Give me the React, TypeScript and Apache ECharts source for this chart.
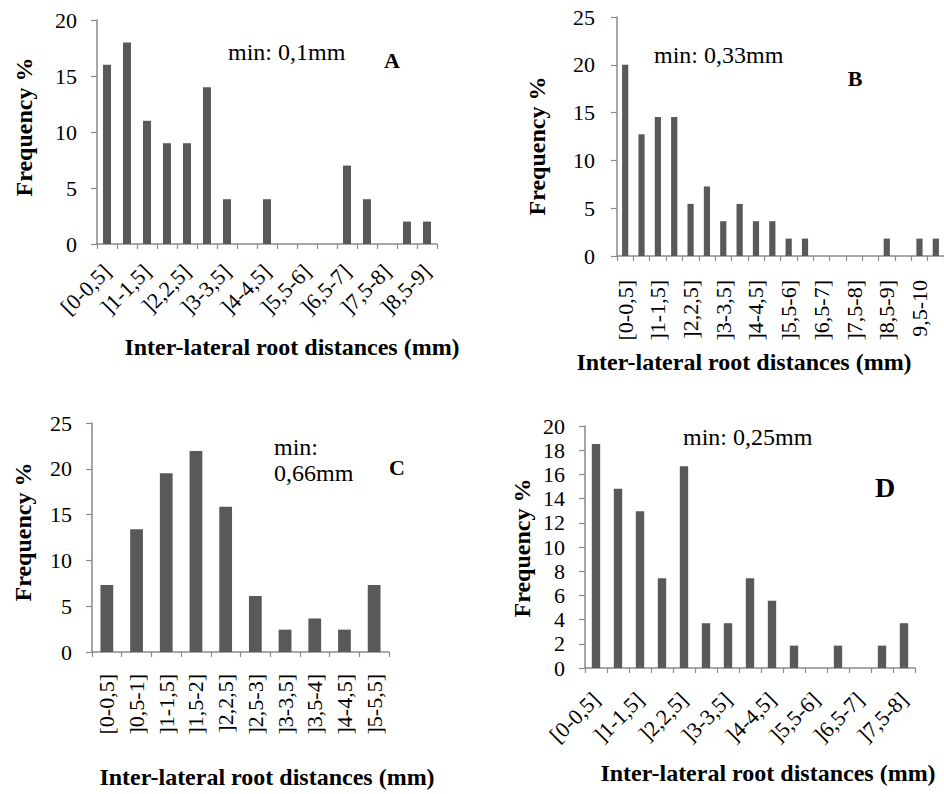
import React, { useEffect, useRef } from "react";
import * as echarts from "echarts";

const catsA = ["[0-0,5]", "]0,5-1]", "]1-1,5]", "]1,5-2]", "]2,2,5]", "]2,5-3]", "]3-3,5]", "]3,5-4]", "]4-4,5]", "]4,5-5,5]", "]5,5-6]", "]6-6,5]", "]6,5-7]", "]7-7,5]", "]7,5-8]", "]8-8,5]", "]8,5-9]"];
const valsA = [16, 18, 11, 9, 9, 14, 4, 0, 4, 0, 0, 0, 7, 4, 0, 2, 2];

const catsB = ["[0-0,5]", "]0,5-1]", "]1-1,5]", "]1,5-2]", "]2,2,5]", "]2,5-3]", "]3-3,5]", "]3,5-4]", "]4-4,5]", "]4,5-5,5]", "]5,5-6]", "]6-6,5]", "]6,5-7]", "]7-7,5]", "]7,5-8]", "]8-8,5]", "]8,5-9]", "]9-9,5]", "9,5-10", "]10-10,5]"];
const valsB = [20, 12.73, 14.55, 14.55, 5.45, 7.27, 3.64, 5.45, 3.64, 3.64, 1.82, 1.82, 0, 0, 0, 0, 1.82, 0, 1.82, 1.82];

const catsC = ["[0-0,5]", "]0,5-1]", "]1-1,5]", "]1,5-2]", "]2,2,5]", "]2,5-3]", "]3-3,5]", "]3,5-4]", "]4-4,5]", "]5-5,5]"];
const valsC = [7.32, 13.41, 19.51, 21.95, 15.85, 6.1, 2.44, 3.66, 2.44, 7.32];

const catsD = ["[0-0,5]", "]0,5-1]", "]1-1,5]", "]1,5-2]", "]2,2,5]", "]2,5-3]", "]3-3,5]", "]3,5-4]", "]4-4,5]", "]4,5-5,5]", "]5,5-6]", "]6-6,5]", "]6,5-7]", "]7-7,5]", "]7,5-8]"];
const valsD = [18.52, 14.81, 12.96, 7.41, 16.67, 3.7, 3.7, 7.41, 5.56, 1.85, 0, 1.85, 0, 1.85, 3.7];

const FONT = "Liberation Serif";
const AXIS = "#8a8a8a";
const BAR = "#595959";

export default function App() {
  const ref = useRef<HTMLDivElement>(null);
  useEffect(() => {
    if (!ref.current) return;
    const chart = echarts.init(ref.current, undefined, { renderer: "svg" });

    const grids = [
      { left: 97, top: 20, width: 340, height: 224 },
      { left: 617, top: 17, width: 327, height: 239 },
      { left: 92, top: 423, width: 297, height: 229 },
      { left: 585, top: 426, width: 330, height: 242 },
    ];
    const cats = [catsA, catsB, catsC, catsD];
    const vals = [valsA, valsB, valsC, valsD];
    const maxes = [20, 25, 25, 20];
    const steps = [5, 5, 5, 2];
    const rotates = [45, 90, 90, 45];
    const labelIntervals = [1, 1, 0, 1];
    const labelMargins = [24, 24, 22, 28];
    const barWidths = ["40%", "38%", "43%", "38%"];

    const xAxes = cats.map((c, i) => ({
      type: "category",
      gridIndex: i,
      data: c,
      boundaryGap: true,
      axisLine: { lineStyle: { color: AXIS, width: 1.5 } },
      axisTick: { show: true, interval: 0, length: 5, lineStyle: { color: AXIS, width: 1.2 } },
      axisLabel: {
        interval: labelIntervals[i],
        rotate: rotates[i],
        margin: labelMargins[i],
        fontFamily: FONT,
        fontSize: 22,
        color: "#000",
      },
      splitLine: { show: false },
    }));

    const yAxes = maxes.map((m, i) => ({
      type: "value",
      gridIndex: i,
      min: 0,
      max: m,
      interval: steps[i],
      axisLine: { show: true, lineStyle: { color: AXIS, width: 1.5 } },
      axisTick: { show: true, length: 6, lineStyle: { color: AXIS, width: 1.2 } },
      axisLabel: { fontFamily: FONT, fontSize: 22, color: "#000", margin: i === 1 ? 22 : 20 },
      splitLine: { show: false },
    }));

    const series = vals.map((v, i) => ({
      type: "bar",
      xAxisIndex: i,
      yAxisIndex: i,
      data: v,
      barWidth: barWidths[i],
      itemStyle: { color: BAR },
    }));

    const txt = (x: number, y: number, text: string, size: number, bold: boolean, align = "left", rotation = 0) => ({
      type: "text",
      x,
      y,
      rotation,
      style: {
        text,
        fontFamily: FONT,
        fontSize: size,
        fontWeight: bold ? "bold" : "normal",
        fill: "#000",
        textAlign: align,
        textVerticalAlign: "middle",
      },
    });

    const graphics = [
      txt(24, 127, "Frequency %", 24, true, "center", Math.PI / 2),
      txt(537, 146, "Frequency %", 24, true, "center", Math.PI / 2),
      txt(23, 532, "Frequency %", 24, true, "center", Math.PI / 2),
      txt(522, 548, "Frequency %", 24, true, "center", Math.PI / 2),
      txt(292, 347, "Inter-lateral root distances (mm)", 24, true, "center"),
      txt(744, 362, "Inter-lateral root distances (mm)", 24, true, "center"),
      txt(267, 777, "Inter-lateral root distances (mm)", 24, true, "center"),
      txt(768, 773, "Inter-lateral root distances (mm)", 24, true, "center"),
      txt(228, 52, "min: 0,1mm", 24, false),
      txt(392, 60, "A", 22, true, "center"),
      txt(654, 55, "min: 0,33mm", 24, false),
      txt(855, 78, "B", 22, true, "center"),
      txt(274, 447, "min:", 24, false),
      txt(274, 473, "0,66mm", 24, false),
      txt(397, 467, "C", 22, true, "center"),
      txt(683, 437, "min: 0,25mm", 24, false),
      txt(885, 487, "D", 28, true, "center"),
    ];

    chart.setOption({
      animation: false,
      backgroundColor: "#fff",
      grid: grids.map((g) => ({ ...g, containLabel: false })),
      xAxis: xAxes,
      yAxis: yAxes,
      series,
      graphic: graphics,
    });
    return () => chart.dispose();
  }, []);
  return (
    <div
      ref={ref}
      style={{ position: "absolute", left: 0, top: 0, width: 944, height: 794, background: "#fff" }}
    />
  );
}
